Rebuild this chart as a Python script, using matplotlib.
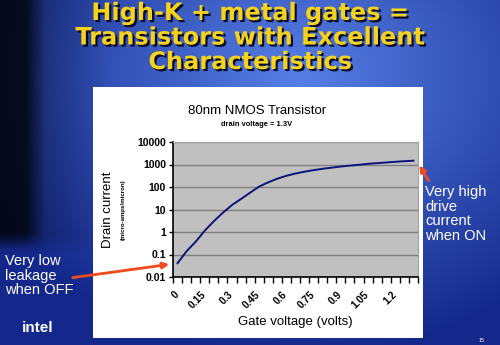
import matplotlib
matplotlib.use('Agg')
import matplotlib.pyplot as plt
import matplotlib.patheffects as pe
import matplotlib.transforms as mtransforms
from matplotlib.patches import Rectangle, FancyArrowPatch
import numpy as np

matplotlib.rcParams.update({'font.family': 'Liberation Sans'})

# gate voltage categories (volts) and drain current (micro-amps/micron)
voltages = [0.00, 0.05, 0.10, 0.15, 0.20, 0.25, 0.30, 0.35, 0.40, 0.45,
            0.50, 0.55, 0.60, 0.65, 0.70, 0.75, 0.80, 0.85, 0.90, 0.95,
            1.00, 1.05, 1.10, 1.15, 1.20, 1.25, 1.30]
current = [0.041, 0.14, 0.37, 1.15, 3.0, 7.2, 15.8, 29.5, 56, 105,
           162, 234, 316, 398, 479, 562, 646, 724, 813, 891,
           977, 1070, 1150, 1230, 1320, 1400, 1480]
ytick_vals = [0.01, 0.1, 1, 10, 100, 1000, 10000]
ytick_text = ['0.01', '0.1', '1', '10', '100', '1000', '10000']
label_step = 3

title_lines = ['High-K + metal gates =', 'Transistors with Excellent', 'Characteristics']

fig = plt.figure(figsize=(5, 3.45), dpi=100)

# slide background
bg = fig.add_axes([0, 0, 1, 1], zorder=-2)
bg.set_axis_off()
h, w = 345, 500
yy, xx = np.mgrid[0:h, 0:w] / np.array([h, w])[:, None, None]
r = np.sqrt(((xx - 0.60) / 0.7) ** 2 + ((yy - 0.22) / 0.8) ** 2)
glow = np.clip(1 - r, 0, 1)
img = np.zeros((h, w, 3))
img[..., 0] = 0.08 + 0.26 * glow
img[..., 1] = 0.16 + 0.34 * glow
img[..., 2] = 0.55 + 0.35 * glow
dim = np.clip((0.22 - xx) / 0.2, 0, 1) * np.clip((0.74 - yy) / 0.06, 0, 1)
dark = np.clip((0.09 - xx) / 0.04, 0, 1) * np.clip((0.72 - yy) / 0.05, 0, 1)
img *= (1 - 0.35 * dim)[..., None]
img *= (1 - 0.72 * dark)[..., None]
bg.imshow(np.clip(img, 0, 1), extent=[0, 1, 0, 1], aspect='auto', origin='upper')
bg.set_xlim(0, 1)
bg.set_ylim(0, 1)

# title
shadow = [pe.withSimplePatchShadow(offset=(1.5, -1.5), shadow_rgbFace='#000018', alpha=0.9)]
for i, line in enumerate(title_lines):
    fig.text(0.5, 1 - (13 + 24.5 * i) / 345, line, ha='center', va='center',
             fontsize=17.3, fontweight='bold', family='DejaVu Sans', color='#F7D21A',
             path_effects=shadow)

# white panel
fig.patches.append(Rectangle((93 / 500, 1 - 338 / 345), 330 / 500, 251 / 345,
                             transform=fig.transFigure, facecolor='white',
                             edgecolor='none', zorder=-1))

fig.text(257 / 500, 1 - 111 / 345, '80nm NMOS Transistor', ha='center', va='center',
         fontsize=9.5)
fig.text(257 / 500, 1 - 124 / 345, 'drain voltage = 1.3V', ha='center', va='center',
         fontsize=5.4, fontweight='bold')

ax = fig.add_axes([173 / 500, 1 - 277 / 345, 245 / 500, 135 / 345])
ax.set_facecolor('#C0C0C0')
x = np.arange(len(voltages))
ax.plot(x, current, color='#0A1478', lw=1.4, zorder=3)
ax.set_yscale('log')
ax.set_ylim(0.01, 10000)
ax.set_xlim(-0.5, len(voltages) - 0.5)
ax.set_yticks(ytick_vals)
ax.set_yticklabels(ytick_text, fontsize=7.5, fontweight='bold')
ax.yaxis.set_minor_locator(matplotlib.ticker.NullLocator())
ax.grid(axis='y', color='#808080', lw=1)
ax.tick_params(axis='y', length=3, width=1, pad=2)

ax.set_xticks(x[::label_step])
ax.set_xticklabels([f'{v:g}' for v in voltages[::label_step]], rotation=45,
                   ha='right', rotation_mode='anchor', fontsize=7.3, fontweight='bold')
ax.set_xticks(np.arange(len(voltages) + 1) - 0.5, minor=True)
ax.tick_params(axis='x', which='major', length=0, pad=9)
ax.tick_params(axis='x', which='minor', length=4, width=1)
shift = mtransforms.ScaledTranslation(-4 / 100, 0, fig.dpi_scale_trans)
for lbl in ax.get_xticklabels():
    lbl.set_transform(lbl.get_transform() + shift)

for s in ['top', 'right']:
    ax.spines[s].set_color('#A0A0A0')
for s in ['left', 'bottom']:
    ax.spines[s].set_linewidth(1.2)

fig.text(295 / 500, 1 - 322 / 345, 'Gate voltage (volts)', ha='center', va='center',
         fontsize=9.5)
fig.text(108 / 500, 1 - 210 / 345, 'Drain current', ha='center', va='center',
         rotation=90, fontsize=9.5)
fig.text(123 / 500, 1 - 210 / 345, '(micro-amps/micron)', ha='center', va='center',
         rotation=90, fontsize=4.4, fontweight='bold')

# callouts
fig.text(425 / 500, 1 - 185 / 345, 'Very high\ndrive\ncurrent\nwhen ON', ha='left',
         va='top', color='white', fontsize=10.5, linespacing=1.05)
fig.text(5 / 500, 1 - 254 / 345, 'Very low\nleakage\nwhen OFF', ha='left',
         va='top', color='white', fontsize=10.5, linespacing=1.05)

arrow_kw = dict(transform=fig.transFigure, arrowstyle='-|>', mutation_scale=9,
                color='#F04A1E', lw=2, zorder=5)
fig.patches.append(FancyArrowPatch((70 / 500, 1 - 278 / 345), (172 / 500, 1 - 264 / 345),
                                   **arrow_kw))
fig.patches.append(FancyArrowPatch((430 / 500, 1 - 183 / 345), (418 / 500, 1 - 163 / 345),
                                   **arrow_kw))

fig.text(38 / 500, 1 - 328 / 345, 'intel', ha='center', va='center', color='white',
         fontsize=11, fontweight='bold')
fig.text(482 / 500, 1 - 341 / 345, '15', ha='center', va='center', color='white',
         fontsize=4)

fig.savefig('out.png', dpi=100)
